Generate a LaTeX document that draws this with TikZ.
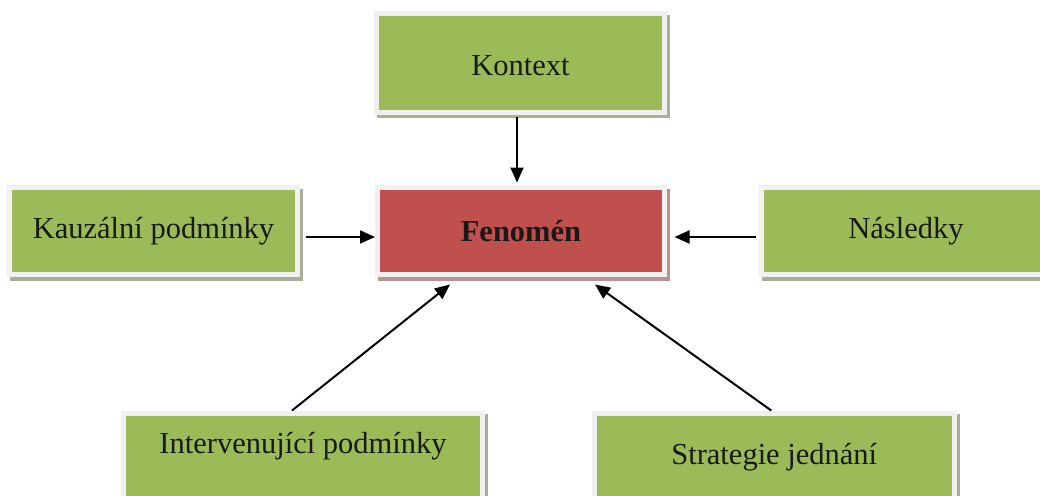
\documentclass[tikz,border=0pt]{standalone}
\usepackage{fontspec}
\setmainfont{Liberation Serif}
\usetikzlibrary{arrows.meta}
\definecolor{boxgreen}{HTML}{9BBB59}
\definecolor{boxred}{HTML}{C0504D}
\definecolor{frame}{HTML}{F0F0F0}
\definecolor{shgreen}{HTML}{A7B095}
\definecolor{shred}{HTML}{B99191}
\tikzset{
  basebox/.style={rectangle, draw=frame, line width=5pt, inner sep=0pt,
    font=\fontsize{30.5}{36}\selectfont, text=black!90},
  greenbox/.style={basebox, fill=boxgreen,
    preaction={draw=shgreen, fill=shgreen, line width=5pt, transform canvas={shift={(3pt,-3.5pt)}}}},
  redbox/.style={basebox, fill=boxred, font=\fontsize{30.5}{36}\selectfont\bfseries,
    preaction={draw=shred, fill=shred, line width=5pt, transform canvas={shift={(3pt,-3.5pt)}}}},
  conn/.style={line width=2pt, -{Triangle[length=15pt,width=13pt]}}
}
\begin{document}
\begin{tikzpicture}[x=1pt,y=-1pt]
\path[use as bounding box, clip] (0,0) rectangle (1040,495);
\node[greenbox, minimum width=288pt, text height=61.5pt, text depth=36.5pt, anchor=north] (kontext) at (520.5,11.5) {Kontext};
\node[greenbox, minimum width=288pt, minimum height=87pt] (kauz) at (153.5,231) {Kauzální podmínky};
\node[redbox, minimum width=287pt, minimum height=87pt] (fenomen) at (521,231) {Fenomén};
\node[greenbox, minimum width=289pt, minimum height=87pt] (nasl) at (906,231) {Následky};
\node[greenbox, minimum width=359pt, text height=40.5pt, text depth=80pt, anchor=north] (interv) at (303,410.5) {Intervenující podmínky};
\node[greenbox, minimum width=360.5pt, text height=51.5pt, text depth=70pt, anchor=north] (strat) at (774.25,410.5) {Strategie jednání};
\draw[conn, shorten <=2.5pt, shorten >=2.5pt] ([xshift=-3.5pt]kontext.south) -- ([xshift=-3.5pt]kontext.south |- fenomen.north);
\draw[conn] ([xshift=5.5pt,yshift=-6pt]kauz.east) -- ([yshift=-6pt]fenomen.west);
\draw[conn] ([xshift=-3.5pt,yshift=-6pt]nasl.west) -- ([xshift=7.5pt,yshift=-6pt]fenomen.east);
\draw[conn] ([xshift=-11pt]interv.north) -- ([xshift=-71pt,yshift=-7.5pt]fenomen.south);
\draw[conn] ([xshift=-3pt]strat.north) -- ([xshift=74pt,yshift=-7.5pt]fenomen.south);
\end{tikzpicture}
\end{document}
